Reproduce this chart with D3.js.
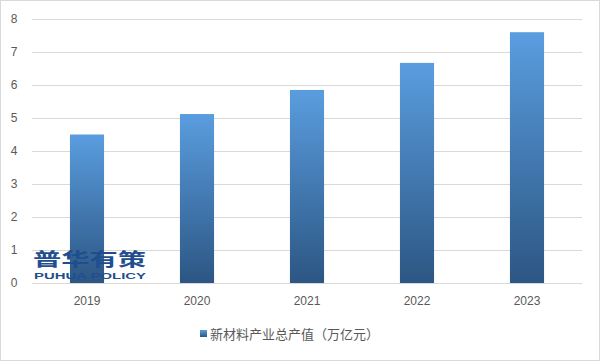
<!DOCTYPE html>
<html><head><meta charset="utf-8">
<script src="https://cdn.jsdelivr.net/npm/d3@7"></script>
<style>body{margin:0;background:#fff}svg{display:block;font-family:"Microsoft YaHei","Noto Sans CJK SC",sans-serif}</style>
</head><body><svg id="c" width="600" height="361"></svg>
<script>
const categories = ["2019","2020","2021","2022","2023"];
const values = [4.5, 5.12, 5.85, 6.67, 7.6];
const yTicks = [0,1,2,3,4,5,6,7,8];
const seriesName = "新材料产业总产值（万亿元）";

const svg = d3.select("#c");
const W = 600, H = 361;
svg.append("rect").attr("x",0.5).attr("y",0.5).attr("width",W-1).attr("height",H-1)
  .attr("fill","#fff").attr("stroke","#d9d9d9");

const x = d3.scaleBand().domain(categories).range([32,582]).paddingInner(0.69).paddingOuter(0.345);
const y = d3.scaleLinear().domain([0,8]).range([283,19]);

const defs = svg.append("defs");
const g = defs.append("linearGradient").attr("id","bg").attr("x1",0).attr("y1",0).attr("x2",0).attr("y2",1);
g.append("stop").attr("offset","0%").attr("stop-color","#5A9DDF");
g.append("stop").attr("offset","100%").attr("stop-color","#2C5683");
const lg = defs.append("linearGradient").attr("id","lg").attr("x1",0).attr("y1",0).attr("x2",0).attr("y2",1);
lg.append("stop").attr("offset","0%").attr("stop-color","#5A9DDF");
lg.append("stop").attr("offset","100%").attr("stop-color","#2C5683");

// grid
svg.append("g").selectAll("line").data(yTicks).join("line")
  .attr("x1",32).attr("x2",582).attr("y1",d=>Math.round(y(d))+0.5).attr("y2",d=>Math.round(y(d))+0.5)
  .attr("stroke","#d9d9d9").attr("stroke-width",1);

// y labels
const yAxis = d3.axisLeft(y).tickValues(yTicks).tickSize(0).tickPadding(0);
const ya = svg.append("g").attr("transform","translate(18,0)").call(yAxis);
ya.select(".domain").remove();
ya.selectAll("text").attr("font-size",12).attr("fill","#595959").attr("text-anchor","middle").attr("dx",-4);

// bars
svg.append("g").selectAll("rect").data(categories).join("rect")
  .attr("x",d=>x(d)).attr("width",x.bandwidth())
  .attr("y",(d,i)=>y(values[i])).attr("height",(d,i)=>y(0)-y(values[i]))
  .attr("fill","url(#bg)");

// x labels
const xAxis = d3.axisBottom(x).tickSize(0).tickPadding(0);
const xa = svg.append("g").attr("transform","translate(0,296)").call(xAxis);
xa.select(".domain").remove();
xa.selectAll("text").attr("font-size",12).attr("fill","#595959").attr("dy","0.71em");

// watermark
const wm = svg.append("g").attr("fill","#1F4E8F");
wm.append("text").attr("x",33).attr("y",266).attr("font-size",18).attr("font-weight","bold")
  .attr("textLength",113).attr("lengthAdjust","spacingAndGlyphs").text("普华有策");
wm.append("text").attr("x",34).attr("y",278.5).attr("font-size",9.5).attr("font-weight","bold")
  .attr("font-family","Arial, Liberation Sans, sans-serif")
  .attr("textLength",112).attr("lengthAdjust","spacingAndGlyphs").text("PUHUA POLICY");

// legend
svg.append("rect").attr("x",200).attr("y",330).attr("width",7).attr("height",7).attr("fill","url(#lg)");
svg.append("text").attr("x",210).attr("y",338.5).attr("font-size",13).attr("fill","#595959").text(seriesName);
</script></body></html>
